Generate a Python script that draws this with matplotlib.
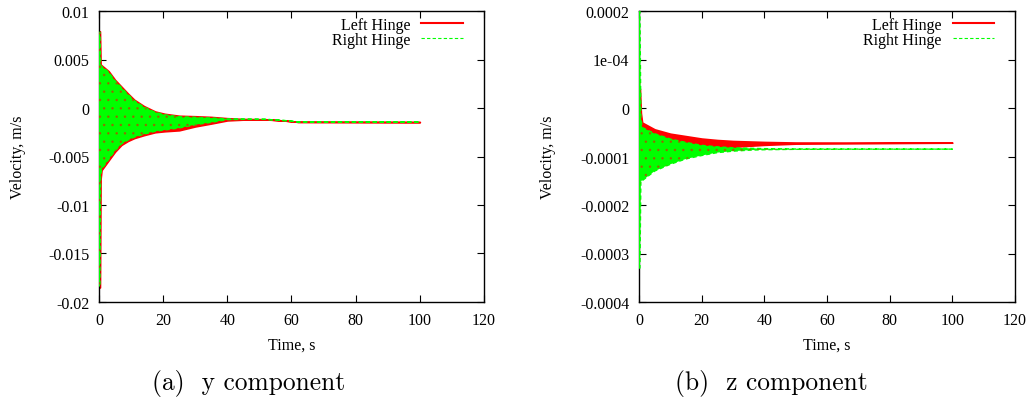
import matplotlib
matplotlib.use("Agg")
import matplotlib.pyplot as plt
from matplotlib.lines import Line2D

plt.rcParams['font.family'] = ['Liberation Serif', 'DejaVu Serif']
plt.rcParams['axes.unicode_minus'] = False
plt.rcParams['hatch.linewidth'] = 0.6

# y component (envelope of the oscillation)
t_y = [0, 0.3, 0.5, 0.8, 3, 5, 7, 9, 11, 14, 17.5, 20.5, 25, 30, 35, 40, 45, 52, 58, 62, 100]
left_y_hi = [0.0079, 0.0079, 0.0045, 0.0044, 0.0038, 0.0029, 0.0022, 0.0015, 0.00085, 0.0002,
             -0.00036, -0.0006, -0.0008, -0.00085, -0.00092, -0.00105, -0.00113, -0.00116,
             -0.0013, -0.00143, -0.00145]
left_y_lo = [-0.0185, -0.0185, -0.0073, -0.0064, -0.0054, -0.0045, -0.0038, -0.0034, -0.0031,
             -0.0028, -0.0025, -0.0024, -0.0023, -0.0019, -0.0016, -0.00128, -0.0012, -0.00118,
             -0.0013, -0.00143, -0.00145]
right_y_hi = [0.0078, 0.0078, 0.0044, 0.0043, 0.0037, 0.0028, 0.0021, 0.0014, 0.00075, 0.0001,
              -0.00044, -0.0007, -0.0009, -0.00096, -0.00103, -0.00112, -0.00115, -0.00117,
              -0.0013, -0.00143, -0.00145]
right_y_lo = [-0.0184, -0.0184, -0.0072, -0.0063, -0.0053, -0.0044, -0.0037, -0.0033, -0.0030,
              -0.0027, -0.0024, -0.00227, -0.00206, -0.00172, -0.00148, -0.0012, -0.00117,
              -0.00117, -0.0013, -0.00143, -0.00145]

# z component
t_z = [0, 0.3, 0.6, 1, 5, 10, 15, 20, 25, 30, 35, 40, 50, 100]
left_z_hi = [0.00004, 0.00004, -0.00001, -0.00003, -0.000044, -0.000053, -0.000058, -0.000063,
             -0.000066, -0.000068, -0.000069, -0.00007, -0.0000712, -0.0000715]
left_z_lo = [-0.00008, -0.00008, -0.00012, -0.000115, -0.000105, -0.000098, -0.000092, -0.000087,
             -0.000083, -0.00008, -0.000078, -0.000076, -0.0000735, -0.0000715]
right_z_hi = [0.0002, 0.0002, -0.00002, -0.00004, -0.000053, -0.000064, -0.000071, -0.000077,
              -0.00008, -0.000082, -0.000083, -0.0000838, -0.0000845, -0.0000848]
right_z_lo = [-0.00033, -0.00033, -0.00015, -0.00015, -0.00013, -0.000116, -0.000105, -0.000098,
              -0.000092, -0.000089, -0.000087, -0.000086, -0.0000852, -0.0000848]

x_ticks = [0, 20, 40, 60, 80, 100, 120]
y_ticks_a = [-0.02, -0.015, -0.01, -0.005, 0, 0.005, 0.01]
y_labels_a = ['-0.02', '-0.015', '-0.01', '-0.005', '0', '0.005', '0.01']
y_ticks_b = [-0.0004, -0.0003, -0.0002, -0.0001, 0, 0.0001, 0.0002]
y_labels_b = ['-0.0004', '-0.0003', '-0.0002', '-0.0001', '0', '1e-04', '0.0002']

RED = '#ff0000'
GREEN = '#00ff00'
FS = 11.5

fig = plt.figure(figsize=(10.33, 4.06), dpi=100)
ax1 = fig.add_axes([99/1033, 103/406, 385/1033, 291/406])
ax2 = fig.add_axes([639/1033, 103/406, 376/1033, 291/406])


def band(ax, t, lo_l, hi_l, lo_r, hi_r):
    # left hinge first (solid red), right hinge on top (dashed green, red shows through)
    ax.fill_between(t, lo_l, hi_l, facecolor=RED, edgecolor=RED, linewidth=1.2, zorder=2)
    ax.fill_between(t, lo_r, hi_r, facecolor=GREEN, edgecolor=GREEN, linewidth=1.0,
                    linestyle=(0, (3, 2)), zorder=3)
    ax.fill_between(t, lo_r, hi_r, facecolor='none', edgecolor=RED, linewidth=0,
                    hatch='..', alpha=0.45, zorder=4)


band(ax1, t_y, left_y_lo, left_y_hi, right_y_lo, right_y_hi)
band(ax2, t_z, left_z_lo, left_z_hi, right_z_lo, right_z_hi)

setup = [(ax1, y_ticks_a, y_labels_a, -0.19), (ax2, y_ticks_b, y_labels_b, -0.22)]
for ax, yt, yl, lx in setup:
    ax.set_xlim(0, 120)
    ax.set_ylim(yt[0], yt[-1])
    ax.set_xticks(x_ticks)
    ax.set_xticklabels([str(v) for v in x_ticks])
    ax.set_yticks(yt)
    ax.set_yticklabels(yl)
    ax.tick_params(direction='in', top=True, right=True, length=5, width=0.8,
                   labelsize=FS, pad=7)
    for s in ax.spines.values():
        s.set_linewidth(1.0)
    ax.set_xlabel('Time, s', fontsize=FS)
    ax.set_ylabel('Velocity, m/s', fontsize=FS)
    ax.xaxis.set_label_coords(0.5, -0.12)
    ax.yaxis.set_label_coords(lx, 0.5)
    handles = [Line2D([], [], color=RED, lw=1.5),
               Line2D([], [], color=GREEN, lw=0.8, linestyle=(0, (3, 2)))]
    ax.legend(handles, ['Left Hinge', 'Right Hinge'], loc='upper right', frameon=False,
              markerfirst=False, fontsize=FS, handlelength=2.6, handletextpad=0.7,
              labelspacing=-0.05, borderaxespad=0.2, bbox_to_anchor=(0.97, 1.014))

fig.text(249/1033, 1 - 384/406, '(a)  y component', ha='center', va='center',
         fontsize=18.3, family='cmr10')
fig.text(771/1033, 1 - 384/406, '(b)  z component', ha='center', va='center',
         fontsize=18.3, family='cmr10')

fig.savefig('out.png', dpi=100)
